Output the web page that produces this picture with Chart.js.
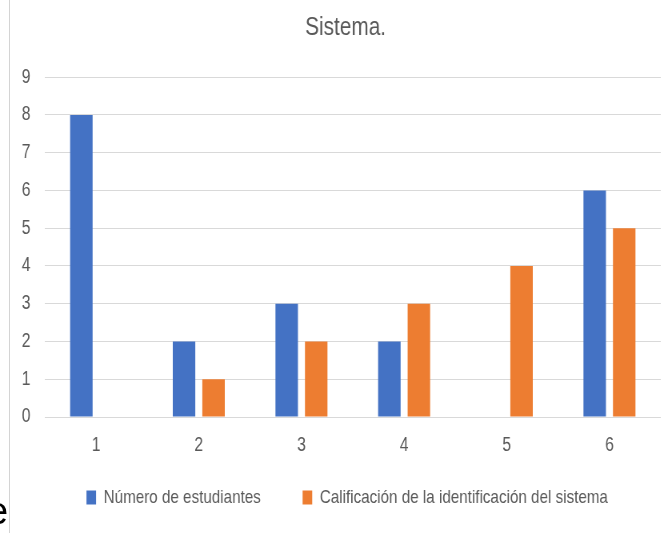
<!DOCTYPE html>
<html>
<head>
<meta charset="utf-8">
<script src="https://cdn.jsdelivr.net/npm/chart.js@4/dist/chart.umd.min.js"></script>
<style>
  html, body { margin: 0; padding: 0; background: #ffffff; overflow: hidden; }
  body { width: 668px; height: 533px; position: relative; }
  #wrap { position: absolute; left: 0; top: 0; width: 835px; height: 533px;
          transform: scaleX(0.8); transform-origin: 0 0; }
  #rule { position: absolute; left: 9px; top: 0; width: 1px; height: 533px; background: #d4d4d4; }
  #stray { position: absolute; left: -13px; top: 492px; font: 38px/38px "Liberation Sans", Arial, sans-serif; color: #000; }
</style>
</head>
<body>
<div id="wrap"><canvas id="chart" width="835" height="533"></canvas></div>
<div id="rule"></div>
<div id="stray">e</div>
<script>
// Categories and series
const categories = ['1', '2', '3', '4', '5', '6'];
const numeroEstudiantes = [8, 2, 3, 2, 0, 6];
const calificacionIdentificacion = [0, 1, 2, 3, 4, 5];
const seriesNames = ['Número de estudiantes', 'Calificación de la identificación del sistema'];
const chartTitle = 'Sistema.';

const FONT = '"Liberation Sans", Arial, sans-serif';
const TEXT = '#595959';
const GRID = '#d9d9d9';

// moves the centred title and legend row a little to the right, over the plot area
const boxShift = {
  id: 'boxShift',
  afterLayout(chart) {
    if (chart.legend) {
      chart.legend.left += 21;
      chart.legend.right += 21;
    }
    if (chart.titleBlock) {
      chart.titleBlock.left += 19;
      chart.titleBlock.right += 19;
    }
  }
};

new Chart(document.getElementById('chart'), {
  type: 'bar',
  data: {
    labels: categories,
    datasets: [
      { label: seriesNames[0], data: numeroEstudiantes, backgroundColor: '#4472C4' },
      { label: seriesNames[1], data: calificacionIdentificacion, backgroundColor: '#ED7D31' }
    ]
  },
  options: {
    responsive: false,
    animation: false,
    devicePixelRatio: 1,
    categoryPercentage: 0.575,
    barPercentage: 0.762,
    layout: { padding: { left: 0, right: 9, top: 0, bottom: 16 } },
    plugins: {
      title: {
        display: true,
        text: chartTitle,
        color: TEXT,
        font: { family: FONT, size: 26, weight: 'normal' },
        padding: { top: 12, bottom: 34 }
      },
      legend: {
        position: 'bottom',
        labels: {
          color: TEXT,
          font: { family: FONT, size: 19 },
          boxWidth: 12,
          boxHeight: 14,
          padding: 10,
          generateLabels(chart) {
            const items = Chart.defaults.plugins.legend.labels.generateLabels(chart);
            items[0].text = items[0].text + '        ';
            return items;
          }
        }
      },
      tooltip: { enabled: false }
    },
    scales: {
      x: {
        grid: { display: false, drawTicks: false },
        border: { display: false },
        ticks: { color: TEXT, font: { family: FONT, size: 19.5 }, padding: 17 },
        afterFit(scale) { scale.height = 61; }
      },
      y: {
        min: 0,
        max: 9,
        grid: { color: GRID, lineWidth: 1, drawTicks: false },
        border: { display: false },
        ticks: { stepSize: 1, color: TEXT, font: { family: FONT, size: 19.5 }, padding: 18 },
        afterFit(scale) { scale.width = 56; }
      }
    }
  },
  plugins: [boxShift]
});
</script>
</body>
</html>
